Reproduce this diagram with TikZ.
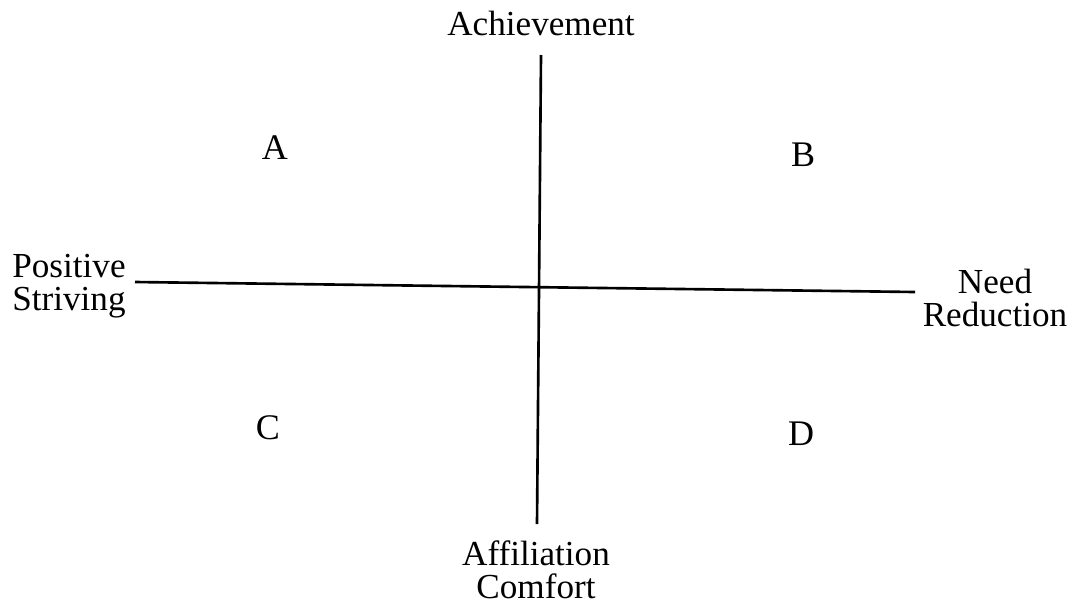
\documentclass[tikz,border=0pt]{standalone}
\usepackage{fontspec}
\setmainfont{Liberation Serif}
\usetikzlibrary{positioning}
\tikzset{
  axis/.style   = {line width=1.5pt},
  pole/.style   = {font=\fontsize{20}{18.5}\selectfont, align=center, inner sep=0pt},
  quad/.style   = {font=\fontsize{20.5}{22}\selectfont, inner sep=0pt},
}

\begin{document}
\begin{tikzpicture}[x=0.02cm, y=-0.02cm]
\useasboundingbox (0,0) rectangle (1074,606);
% ---------------- axes ----------------
\coordinate (top)    at (541,55);
\coordinate (bottom) at (537,524);
\coordinate (left)   at (135,282);
\coordinate (right)  at (915,292);
\draw[axis] (top) -- (bottom);
\draw[axis] (left) -- (right);
% ---------------- pole labels ----------------
\node[pole, anchor=base] (ach) at (541,35) {Achievement};
\node[pole, align=left, anchor=west] (pos) at (12,286) {Positive\\Striving};
\node[pole] (need) at (995,298) {Need\\Reduction};
\node[pole] (aff) at (536,570) {Affiliation\\Comfort};
% ---------------- quadrants ----------------
\node[quad] (qa) at (275,148) {A};
\node[quad] (qb) at (803,155) {B};
\node[quad] (qc) at (268,428) {C};
\node[quad] (qd) at (801,434) {D};
\end{tikzpicture}
\end{document}
